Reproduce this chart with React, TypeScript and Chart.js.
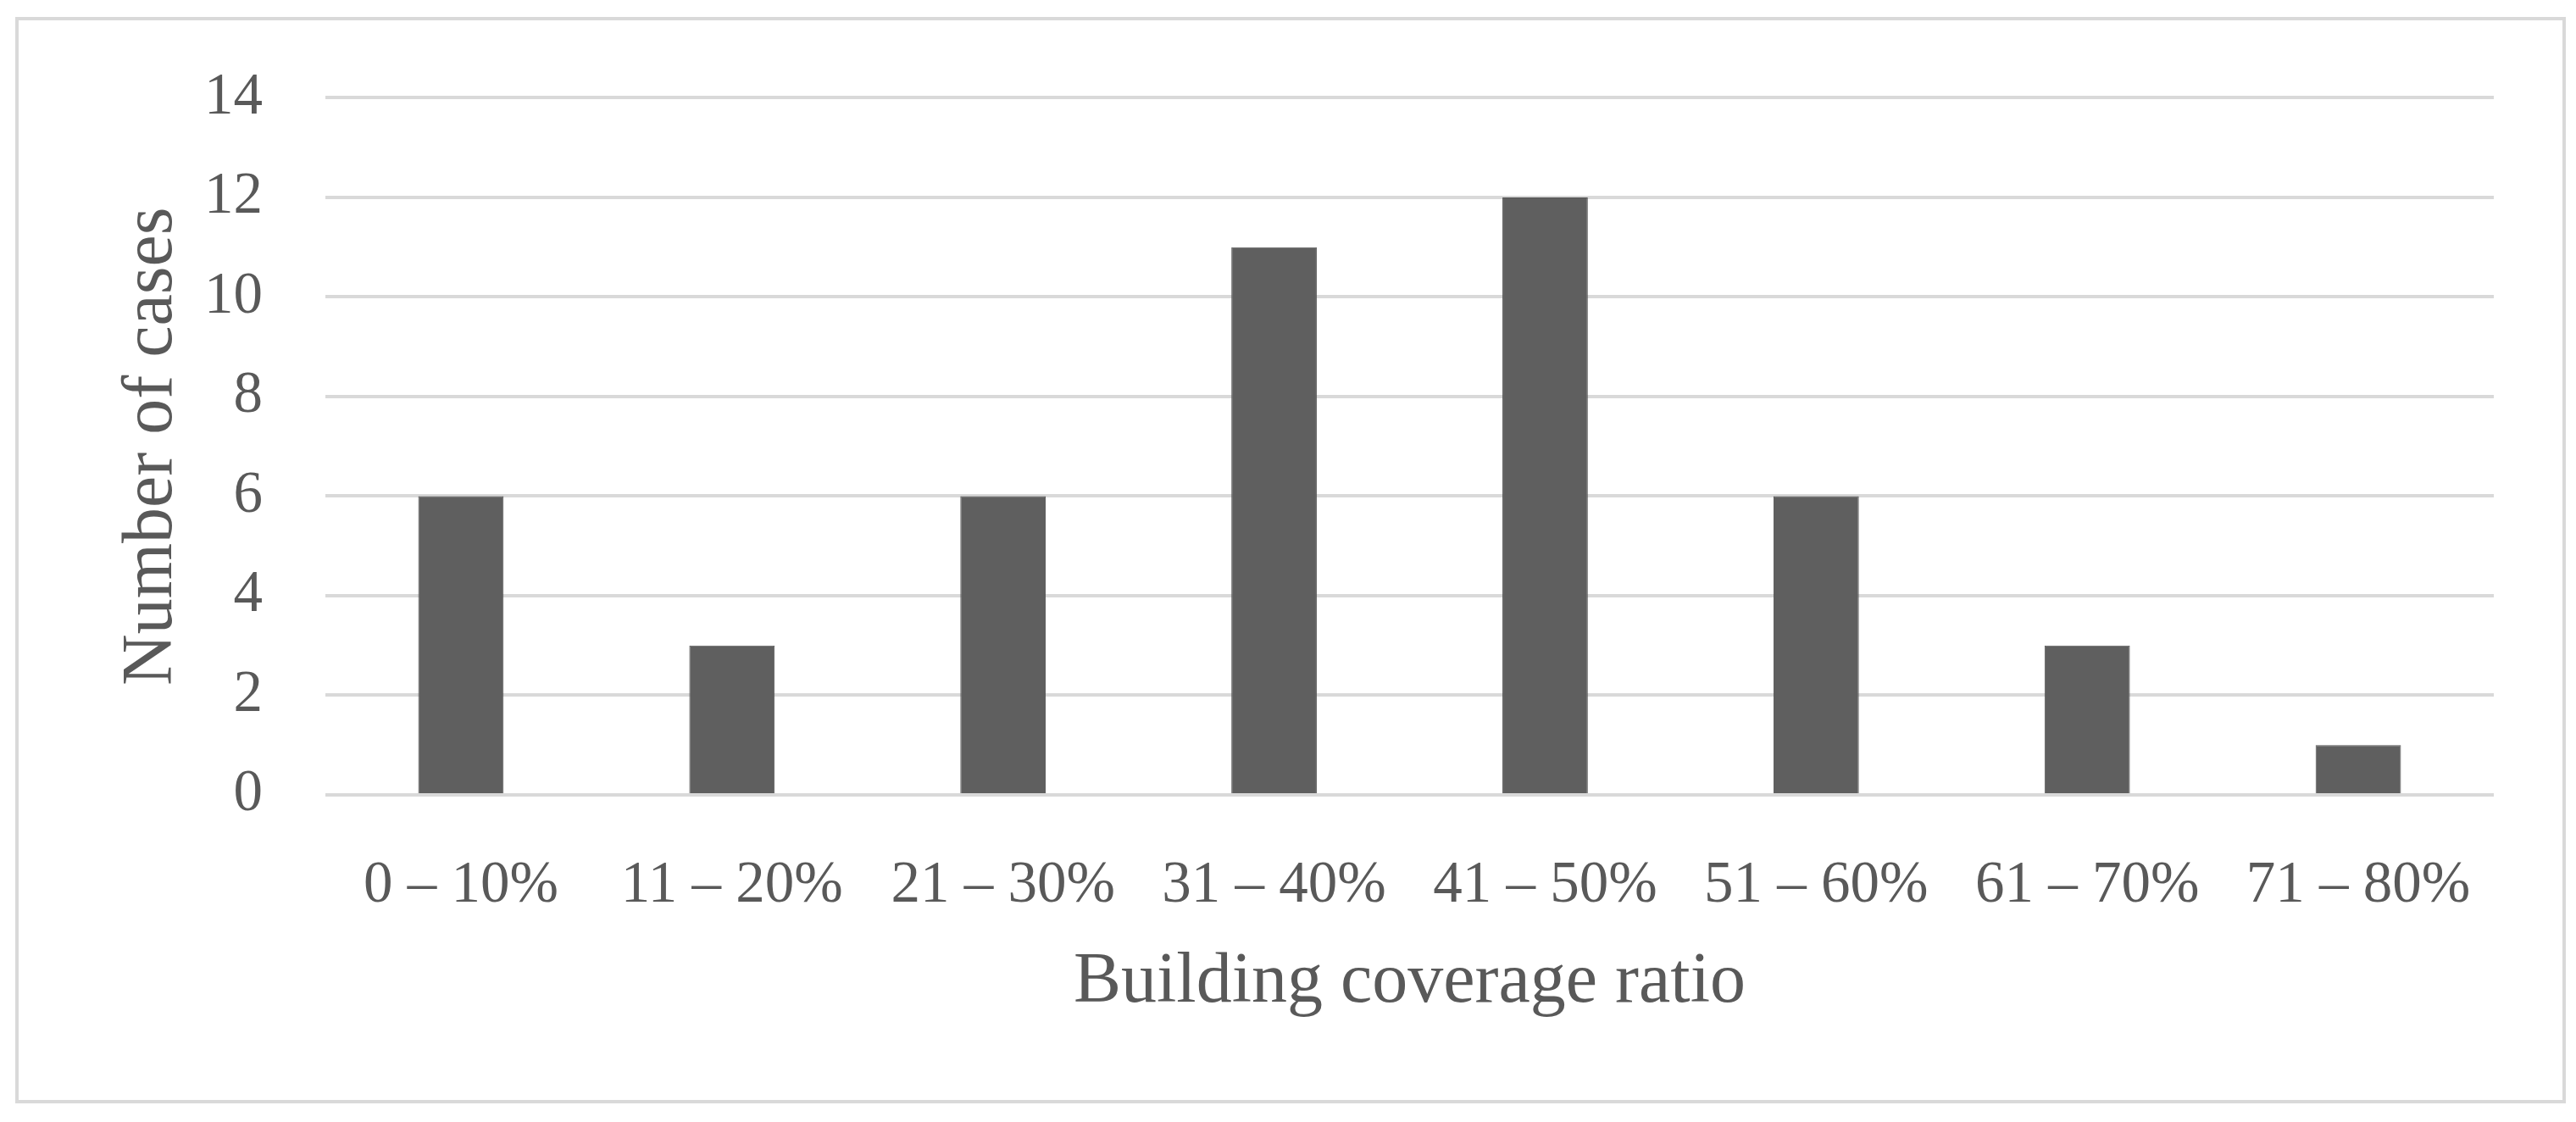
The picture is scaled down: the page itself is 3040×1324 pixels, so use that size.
import React, { useEffect, useRef } from "react";
import { Chart, registerables } from "chart.js";

Chart.register(...registerables);

const categories = ["0 – 10%", "11 – 20%", "21 – 30%", "31 – 40%", "41 – 50%", "51 – 60%", "61 – 70%", "71 – 80%"];
const cases = [6, 3, 6, 11, 12, 6, 3, 1];
const yTicks = [0, 2, 4, 6, 8, 10, 12, 14];
const xTitle = "Building coverage ratio";
const yTitle = "Number of cases";

const FONT = "'Liberation Serif', 'Times New Roman', serif";
const TEXT = "#595959";

export default function App() {
  const ref = useRef<HTMLCanvasElement>(null);
  useEffect(() => {
    const chart = new Chart(ref.current!, {
      type: "bar",
      data: {
        labels: categories,
        datasets: [
          {
            data: cases,
            backgroundColor: "#5f5f5f",
            borderColor: "#565656",
            borderWidth: 1,
            barPercentage: 0.315,
            categoryPercentage: 1,
          },
        ],
      },
      options: {
        animation: false,
        responsive: false,
        maintainAspectRatio: false,
        devicePixelRatio: 1,
        layout: { padding: { left: 130, top: 105, right: 97, bottom: 0 } },
        plugins: { legend: { display: false }, tooltip: { enabled: false } },
        scales: {
          x: {
            grid: { display: false },
            border: { display: false },
            ticks: {
              font: { family: FONT, size: 69 },
              color: TEXT,
              padding: 58,
              maxRotation: 0,
              autoSkip: false,
            },
            title: {
              display: true,
              text: xTitle,
              font: { family: FONT, size: 84 },
              color: TEXT,
              padding: { top: 0, bottom: 114 },
            },
            afterFit: (s: any) => {
              s.height = 386;
            },
          },
          y: {
            min: 0,
            max: 14,
            afterBuildTicks: (s: any) => {
              s.ticks = yTicks.map((v) => ({ value: v }));
            },
            grid: { color: "#d9d9d9", lineWidth: 4, drawTicks: false },
            border: { display: false },
            ticks: {
              font: { family: FONT, size: 69 },
              color: TEXT,
              padding: 74,
            },
            title: {
              display: true,
              text: yTitle,
              font: { family: FONT, size: 84 },
              color: TEXT,
              padding: 0,
            },
            afterFit: (s: any) => {
              s.width = 384 - 130;
            },
          },
        },
      },
    });
    return () => chart.destroy();
  }, []);

  return (
    <div style={{ position: "absolute", left: 0, top: 0, width: 3040, height: 1324, background: "#ffffff" }}>
      <div
        style={{
          position: "absolute",
          left: 18,
          top: 20,
          width: 3010,
          height: 1282,
          border: "4px solid #d9d9d9",
          boxSizing: "border-box",
        }}
      />
      <canvas
        ref={ref}
        width={3040}
        height={1324}
        style={{ position: "absolute", left: 0, top: 0, width: 3040, height: 1324 }}
      />
    </div>
  );
}
